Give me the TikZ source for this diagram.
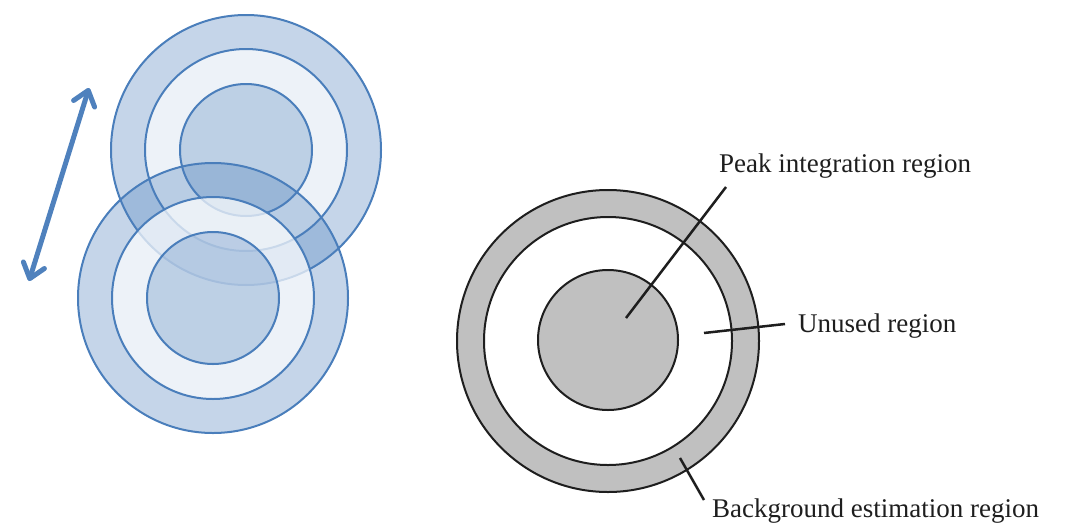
\documentclass[tikz,border=0pt]{standalone}
\usepackage{fontspec}
\setmainfont{Liberation Serif}
\usetikzlibrary{arrows.meta}
\definecolor{ringblue}{RGB}{79,129,189}
\definecolor{ringline}{RGB}{74,126,187}
\definecolor{regiongray}{RGB}{192,192,192}
\definecolor{inkgray}{RGB}{30,30,30}
\begin{document}
\begin{tikzpicture}[x=1pt,y=-1pt,
  ringedge/.style={draw=ringline, line width=2pt},
  bluefill/.style={fill=ringblue, fill opacity=0.33},
  whitefill/.style={fill=white, fill opacity=0.7},
  region/.style={circle, draw=inkgray, line width=2pt, inner sep=0pt, outer sep=0pt},
  regionlabel/.style={anchor=west, inner sep=0pt, text=inkgray, font=\fontsize{27}{32}\selectfont},
  leader/.style={draw=inkgray, line width=2.5pt},
  shiftarrow/.style={draw=ringblue, line width=5pt, line cap=round,
    {Straight Barb[length=14pt,width=22pt,round]}-{Straight Barb[length=14pt,width=22pt,round]}}
]
\useasboundingbox (0,0) rectangle (1070,525);

% ---- left: two shifted ring sets ----
\coordinate (uc) at (246,150);
\coordinate (lc) at (213,298);
\draw[ringedge, bluefill] (uc) circle[radius=135pt];
\draw[ringedge, whitefill] (uc) circle[radius=101pt];
\draw[ringedge, bluefill, fill opacity=0.3] (uc) circle[radius=66pt];

\draw[ringedge, bluefill] (lc) circle[radius=135pt];
\draw[ringedge, whitefill] (lc) circle[radius=101pt];
\draw[ringedge, bluefill, fill opacity=0.3] (lc) circle[radius=66pt];

\coordinate (arrowlow) at (29,281);
\coordinate (arrowhigh) at (89,88);
\draw[shiftarrow] (arrowlow) -- (arrowhigh);

% ---- right: labelled regions ----
\node[region, fill=regiongray, minimum size=302pt] (bgregion) at (608,341) {};
\node[region, fill=white, minimum size=248pt] (unusedregion) at (608,341) {};
\node[region, fill=regiongray, minimum size=140pt] (peakregion) at (608,340) {};

\node[regionlabel] (peaklabel) at (719,166) {Peak integration region};
\node[regionlabel] (unusedlabel) at (798,326) {Unused region};
\node[regionlabel] (bglabel) at (712,511) {Background estimation region};

\coordinate (peakin) at (626,318);
\coordinate (peakout) at (726,187);
\coordinate (unusedin) at (704,333);
\coordinate (unusedout) at (785,324);
\coordinate (bgin) at (680,458);
\coordinate (bgout) at (704,500);
\draw[leader] (peakin) -- (peakout);
\draw[leader] (unusedin) -- (unusedout);
\draw[leader] (bgin) -- (bgout);
\end{tikzpicture}
\end{document}
